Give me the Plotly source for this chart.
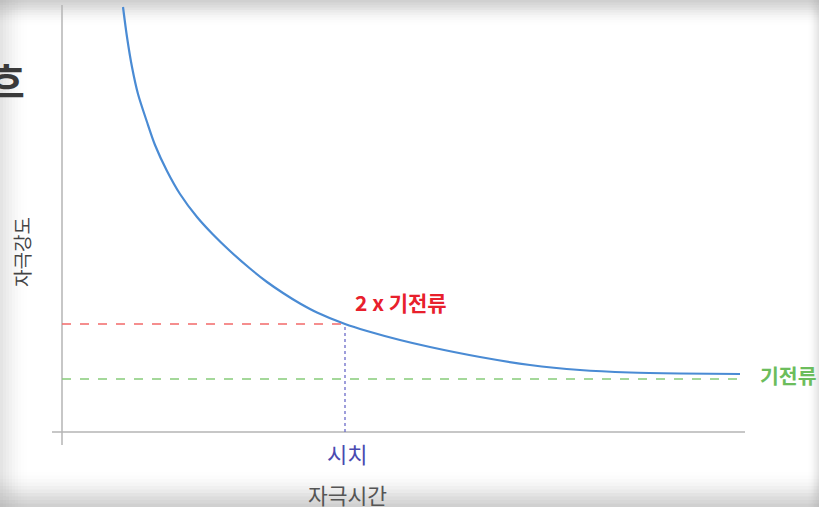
import plotly.graph_objects as go

# Strength–duration curve, values (arbitrary units)
time_vals = [61, 65, 70, 76, 85, 93, 105, 118, 135, 151, 168, 188, 205, 221, 238, 255,
             283, 305, 338, 368, 418, 468, 518, 568, 618, 678]
intensity_vals = [425, 395, 365, 338, 310, 287, 261, 238, 215, 197.5, 181, 163.5, 150, 139, 128.5, 119.5,
                  108, 101, 92, 85, 75, 67, 62, 59.5, 58.5, 58]

rheobase = 53          # 기전류
chronaxie = 283        # 시치
double_rheobase = 108  # 2 x 기전류
x_end = 678

x_range = [-10, 683]
y_range = [-13, 427]

FONT = "Noto Sans CJK KR"

fig = go.Figure()

fig.add_trace(go.Scatter(
    x=time_vals, y=intensity_vals, mode="lines",
    line=dict(color="#4a8bd4", width=2.2, shape="spline", smoothing=0.8),
    hoverinfo="skip", showlegend=False, cliponaxis=False,
))

shapes = []
W, H = 819, 507
L, T, PW, PH = 52, 5, 693, 440
def px(x):
    return (x - L) / PW
def py(y):
    return (T + PH - y) / PH

n = 10
for i in range(n):
    a = 0.09 * (1 - i / n)
    shapes.append(dict(type="rect", xref="paper", yref="paper", layer="below",
                       x0=px(0), x1=px(W), y0=py(2.5 * (i + 1)), y1=py(0),
                       fillcolor=f"rgba(150,150,150,{a:.3f})", line=dict(width=0)))
    shapes.append(dict(type="rect", xref="paper", yref="paper", layer="below",
                       x0=px(0), x1=px(W), y0=py(H), y1=py(H - 3.5 * (i + 1)),
                       fillcolor=f"rgba(150,150,150,{a:.3f})", line=dict(width=0)))
    shapes.append(dict(type="rect", xref="paper", yref="paper", layer="below",
                       x0=px(0), x1=px(3 * (i + 1)), y0=py(H), y1=py(0),
                       fillcolor=f"rgba(160,160,160,{a*0.6:.3f})", line=dict(width=0)))
    shapes.append(dict(type="rect", xref="paper", yref="paper", layer="below",
                       x0=px(W - 1.2 * (i + 1)), x1=px(W), y0=py(H), y1=py(0),
                       fillcolor=f"rgba(160,160,160,{a*0.6:.3f})", line=dict(width=0)))

# axes lines
shapes.append(dict(type="line", xref="x", yref="y", x0=x_range[0], x1=x_range[1], y0=0, y1=0,
                   line=dict(color="#b4b4b4", width=1.5)))
shapes.append(dict(type="line", xref="x", yref="y", x0=0, x1=0, y0=y_range[0], y1=y_range[1],
                   line=dict(color="#b4b4b4", width=1.5)))
# reference lines
shapes.append(dict(type="line", xref="x", yref="y", x0=0, x1=chronaxie, y0=double_rheobase, y1=double_rheobase,
                   line=dict(color="#f26a6a", width=1.3, dash="dash")))
shapes.append(dict(type="line", xref="x", yref="y", x0=0, x1=x_end, y0=rheobase, y1=rheobase,
                   line=dict(color="#86cc7a", width=1.3, dash="dash")))
shapes.append(dict(type="line", xref="x", yref="y", x0=chronaxie, x1=chronaxie, y0=0, y1=double_rheobase,
                   line=dict(color="#6a6ac8", width=1.3, dash="dot")))

annotations = [
    dict(x=px(353), y=py(302), xref="paper", yref="paper", text="<b>2 x 기전류</b>", showarrow=False,
         xanchor="left", yanchor="middle", font=dict(family=FONT, size=21, color="#e8202c")),
    dict(x=px(758), y=py(375), xref="paper", yref="paper", text="<b>기전류</b>", showarrow=False,
         xanchor="left", yanchor="middle", font=dict(family=FONT, size=20.5, color="#6cbd5c")),
    dict(x=px(347), y=py(453), xref="paper", yref="paper", text="시치", showarrow=False,
         xanchor="center", yanchor="middle", font=dict(family=FONT, size=22, color="#4a4ab0")),
    dict(x=px(347), y=py(495), xref="paper", yref="paper", text="자극시간", showarrow=False,
         xanchor="center", yanchor="middle", font=dict(family=FONT, size=21.5, color="#555555")),
    dict(x=px(22), y=py(252), xref="paper", yref="paper", text="자극강도", showarrow=False,
         textangle=-90, xanchor="center", yanchor="middle", font=dict(family=FONT, size=19, color="#444444")),
    dict(x=px(27), y=py(80), xref="paper", yref="paper", text="<b>흐</b>", showarrow=False,
         xanchor="right", yanchor="middle", font=dict(family=FONT, size=40, color="#3a3a3a")),
]

fig.update_layout(
    width=W, height=H,
    margin=dict(l=L, r=W - L - PW, t=T, b=H - T - PH),
    paper_bgcolor="white", plot_bgcolor="rgba(0,0,0,0)",
    xaxis=dict(range=x_range, visible=False, fixedrange=True),
    yaxis=dict(range=y_range, visible=False, fixedrange=True),
    shapes=shapes, annotations=annotations, showlegend=False,
)

fig.write_html("out.html", config={"displayModeBar": False},
               post_script="document.body.style.margin='0';document.body.style.overflow='hidden';")
